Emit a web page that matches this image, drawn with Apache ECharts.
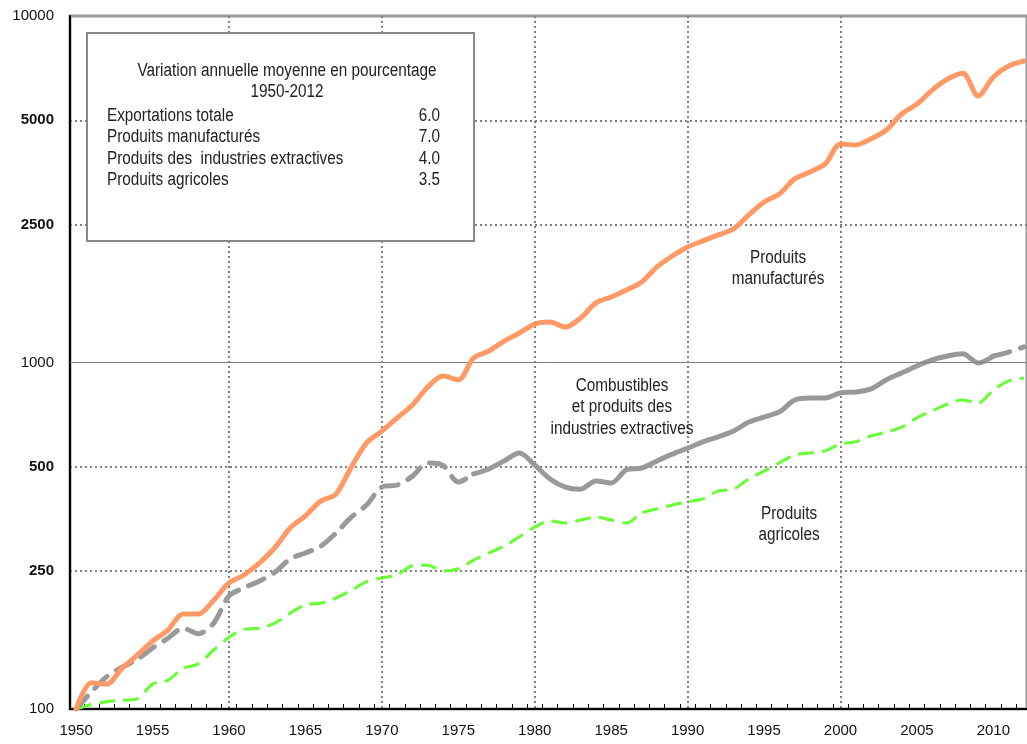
<!DOCTYPE html>
<html><head><meta charset="utf-8">
<script src="https://cdn.jsdelivr.net/npm/echarts@6/dist/echarts.min.js"></script>
<style>html,body{margin:0;padding:0;background:#fff}#c{width:1027px;height:744px}</style>
</head><body><div id="c"></div>
<script>
const years = [1950,1951,1952,1953,1954,1955,1956,1957,1958,1959,1960,1961,1962,1963,1964,1965,1966,1967,1968,1969,1970,1971,1972,1973,1974,1975,1976,1977,1978,1979,1980,1981,1982,1983,1984,1985,1986,1987,1988,1989,1990,1991,1992,1993,1994,1995,1996,1997,1998,1999,2000,2001,2002,2003,2004,2005,2006,2007,2008,2009,2010,2011,2012];
const manufactures = [100,119,118,131,143,157,169,188,188,206,231,244,264,292,333,361,398,417,499,586,634,692,754,850,914,891,1030,1079,1153,1217,1291,1309,1265,1344,1486,1545,1619,1708,1888,2029,2154,2244,2334,2428,2665,2906,3065,3388,3548,3742,4274,4245,4420,4690,5214,5570,6110,6577,6840,5874,6670,7170,7413];
const extractives = [100,112,124,132,139,150,160,171,165,177,212,224,234,248,271,282,295,322,358,388,437,443,470,513,505,452,477,493,520,548,506,461,437,431,455,449,490,496,520,544,566,590,610,634,673,696,720,779,790,790,817,822,839,891,933,977,1017,1044,1059,997,1044,1072,1109];
const agricoles = [100,103,105,106,107,118,121,131,135,148,161,170,171,177,189,200,202,209,220,233,239,244,259,260,250,254,269,282,295,314,335,349,344,351,358,351,344,368,378,388,396,404,426,431,461,486,513,541,548,556,582,590,614,630,651,692,725,759,780,764,833,885,902];
const yTickLabels = [100,250,500,1000,2500,5000,10000];
const yBoldLabels = [250,500,2500,5000];
const yDottedLines = [250,500,2500,5000];
const ySolidLine = 1000;
const xTickLabels = [1950,1955,1960,1965,1970,1975,1980,1985,1990,1995,2000,2005,2010];
const xGridYears = [1960,1970,1980,1990,2000];
const boxTitle = ['Variation annuelle moyenne en pourcentage','1950-2012'];
const boxRows = ['Exportations totale','Produits manufacturés','Produits des  industries extractives','Produits agricoles'];
const boxValues = ['6.0','7.0','4.0','3.5'];
const labelManuf = ['Produits','manufacturés'];
const labelExtr = ['Combustibles','et produits des','industries extractives'];
const labelAgri = ['Produits','agricoles'];

const SANS = "'Liberation Sans',Arial,sans-serif";
const pairs = arr => years.map((y,i)=>[y, arr[i]]);
const part = (arr, a, b) => years.map((y,i)=> (i>=a && i<=b) ? [y, arr[i]] : [y, null]);
const iSolidStart = years.indexOf(1976), iSolidEnd = years.indexOf(2010);
const xTickYears = years.slice(0,-1).map(y=>y+0.5);

const chart = echarts.init(document.getElementById('c'), null, {renderer:'canvas'});
const graphic = [];
const narrowText = (t, x, y, align) => ({type:'text', x:x, y:y, scaleX:0.85, z:101,
  style:{text:t, font:'18px '+SANS, fill:'#222', textAlign:align, textVerticalAlign:'middle'}});
graphic.push({type:'rect', shape:{x:87,y:33,width:387,height:208}, style:{fill:'#fff', stroke:'#888', lineWidth:2}, z:100});
boxTitle.forEach((t,i)=>graphic.push(narrowText(t, 287, 71+i*21, 'center')));
boxRows.forEach((t,i)=>{
  graphic.push(narrowText(t, 107, 116+i*21.3, 'left'));
  graphic.push(narrowText(boxValues[i], 440, 116+i*21.3, 'right'));
});
const addLabel = (lines, cx, cy) => lines.forEach((t,i)=>graphic.push(narrowText(t, cx, cy+i*21.5, 'center')));
addLabel(labelManuf, 778, 258);
addLabel(labelExtr, 622, 386);
addLabel(labelAgri, 789, 514);

const option = {
  animation:false,
  backgroundColor:'#fff',
  grid:{left:70, right:-3, top:16, bottom:35, show:true, borderColor:'#999', borderWidth:3, backgroundColor:'transparent'},
  xAxis:[{
    type:'value', min:1949.6, max:2012.2,
    axisLine:{show:true, onZero:false, lineStyle:{color:'#000', width:2}},
    axisTick:{show:true, inside:true, length:5, customValues:xTickYears, lineStyle:{color:'#000', width:1}},
    axisLabel:{customValues:xTickLabels, margin:14, color:'#111', fontSize:15, fontFamily:SANS, formatter:v=>String(Math.round(v))},
    splitLine:{show:false}
  },{
    type:'value', min:1949.6, max:2012.2, position:'bottom',
    axisLine:{show:false}, axisLabel:{show:false},
    axisTick:{show:false, customValues:xGridYears},
    splitLine:{show:true, lineStyle:{color:'#808080', width:2, type:[2,3]}}
  }],
  yAxis:{
    type:'log', logBase:10, min:100, max:10000,
    axisLine:{show:true, lineStyle:{color:'#000', width:2}},
    axisTick:{show:false, customValues:yDottedLines},
    axisLabel:{customValues:yTickLabels, margin:16, color:'#111', fontSize:15, fontFamily:SANS,
      formatter:v=>{const r=Math.round(v); return yBoldLabels.includes(r) ? '{b|'+r+'}' : String(r);},
      rich:{b:{fontWeight:'bold', fontSize:15, color:'#111', fontFamily:SANS}}},
    splitLine:{show:true, lineStyle:{color:'#808080', width:2, type:[2,3]}}
  },
  graphic: graphic,
  series:[
    {type:'line', name:'agricoles', data:pairs(agricoles), showSymbol:false, smooth:0.3, z:3,
     lineStyle:{color:'#66FF33', width:3, type:[16,8]},
     markLine:{silent:true, symbol:'none', label:{show:false}, lineStyle:{color:'#808080', width:1, type:'solid'}, data:[{yAxis:ySolidLine}]}},
    {type:'line', name:'extr1', data:part(extractives,0,iSolidStart), showSymbol:false, smooth:0.3, z:4,
     lineStyle:{color:'#999999', width:5, type:[17,11], cap:'round'}},
    {type:'line', name:'extr2', data:part(extractives,iSolidStart,iSolidEnd), showSymbol:false, smooth:0.3, z:4,
     lineStyle:{color:'#999999', width:5, type:'solid', cap:'round'}},
    {type:'line', name:'extr3', data:part(extractives,iSolidEnd,years.length-1), showSymbol:false, smooth:0.3, z:4,
     lineStyle:{color:'#999999', width:5, type:[17,11], cap:'round'}},
    {type:'line', name:'manuf', data:pairs(manufactures), showSymbol:false, smooth:0.3, z:5,
     lineStyle:{color:'#FF9966', width:5, cap:'round'}}
  ]
};
chart.setOption(option);
</script></body></html>
